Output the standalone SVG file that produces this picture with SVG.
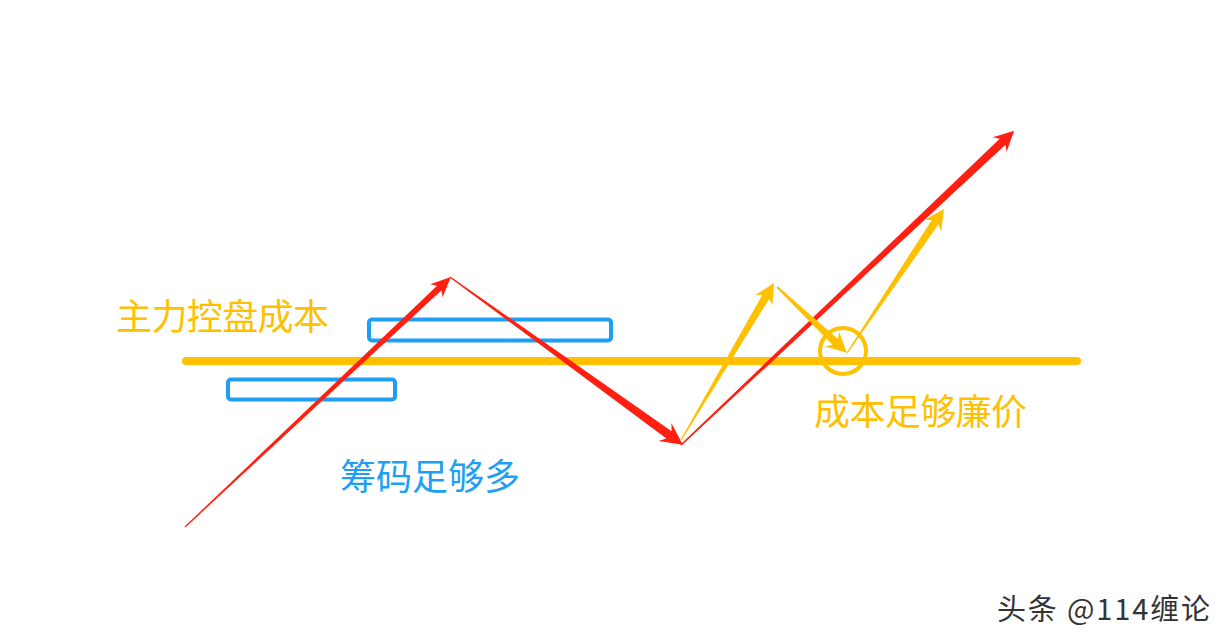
<svg xmlns="http://www.w3.org/2000/svg" width="1230" height="642" viewBox="0 0 1230 642">
<style>
.red{fill:#FF2012}
.org{fill:#FFC000}
.box{fill:none;stroke:#1E9FF5;stroke-width:4}
.cjk{font-family:"Noto Sans CJK SC","Noto Sans",sans-serif;font-size:36px}
</style>
<rect width="1230" height="642" fill="#fff"/>
<g id="cost-line"><line x1="186" y1="361" x2="1077" y2="361" stroke="#FFC000" stroke-width="8" stroke-linecap="round"/></g>
<g id="box-low"><rect class="box" x="228" y="379.5" width="167" height="20" rx="3"/></g>
<g id="box-high"><rect class="box" x="369" y="319.5" width="242" height="21" rx="3"/></g>
<g id="circle"><circle cx="843" cy="351" r="23" fill="none" stroke="#FFC000" stroke-width="4"/></g>
<g id="connectors">
<path class="red" transform="translate(185,527) rotate(-43.23)" d="M0,-0.6 L349,-3.2 L345,-9 L365,0 L345,9 L349,3.2 L0,0.6Z"/>
<path class="red" transform="translate(450,277) rotate(35.79)" d="M0,-0.6 L270,-4.5 L265,-11 L287,0 L265,11 L270,4.5 L0,0.6Z"/>
<path class="red" transform="translate(681,445) rotate(-43.32)" d="M0,-0.8 L442,-4.2 L438,-10 L458,0 L438,10 L442,4.2 L0,0.8Z"/>
<path class="org" transform="translate(681,440) rotate(-59.36)" d="M0,-0.6 L166.5,-4 L162.5,-10 L182.5,0 L162.5,10 L166.5,4 L0,0.6Z"/>
<path class="org" transform="translate(777,287) rotate(43.31)" d="M0,-1 L80,-4 L76,-10 L96,0 L76,10 L80,4 L0,1Z"/>
<path class="org" transform="translate(847,353) rotate(-56.03)" d="M0,-0.6 L157.6,-4 L153.6,-10 L173.6,0 L153.6,10 L157.6,4 L0,0.6Z"/>
</g>
<g id="label-cost"><text class="cjk" x="116" y="330" fill="#FFC000" textLength="213">主力控盘成本</text></g>
<g id="label-chips"><text class="cjk" x="340" y="490" fill="#1E9FF5" textLength="180">筹码足够多</text></g>
<g id="label-cheap"><text class="cjk" x="814" y="425" fill="#FFC000" textLength="213">成本足够廉价</text></g>
<g id="watermark"><text x="997" y="620" font-family="Noto Sans CJK SC,sans-serif" font-size="29" fill="#333" textLength="213">头条 @114缠论</text></g>
</svg>
